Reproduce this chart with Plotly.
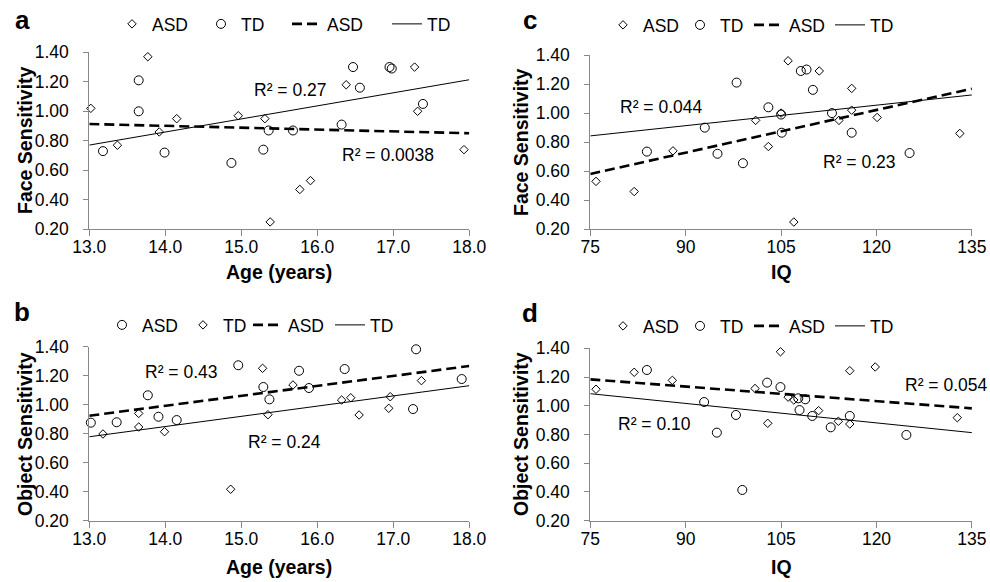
import plotly.graph_objects as go

# ---------------- data ----------------
# Panel a: Face sensitivity vs age
age_a_asd = [13.02, 13.37, 13.77, 13.92, 14.15, 14.96, 15.31, 15.38, 15.77, 15.91, 16.38, 17.28, 17.32, 17.93]
face_a_asd = [1.02, 0.77, 1.37, 0.86, 0.95, 0.97, 0.95, 0.25, 0.47, 0.53, 1.18, 1.30, 1.00, 0.74]
age_a_td = [13.18, 13.65, 13.65, 13.99, 14.87, 15.29, 15.36, 15.68, 16.32, 16.47, 16.56, 16.95, 16.98, 17.39]
face_a_td = [0.73, 1.21, 1.00, 0.72, 0.65, 0.74, 0.87, 0.87, 0.91, 1.30, 1.16, 1.30, 1.29, 1.05]
trend_age = [13.0, 18.0]
trend_a_asd = [0.914, 0.851]
trend_a_td = [0.771, 1.214]

# Panel b: Object sensitivity vs age
age_b_asd = [13.02, 13.36, 13.77, 13.91, 14.15, 14.96, 15.29, 15.37, 15.76, 15.89, 16.36, 17.26, 17.30, 17.90]
obj_b_asd = [0.876, 0.879, 1.065, 0.917, 0.894, 1.272, 1.122, 1.037, 1.234, 1.115, 1.246, 0.97, 1.382, 1.177]
age_b_td = [13.18, 13.65, 13.65, 13.99, 14.86, 15.28, 15.35, 15.68, 16.32, 16.44, 16.55, 16.94, 16.96, 17.37]
obj_b_td = [0.798, 0.94, 0.846, 0.814, 0.417, 1.251, 0.931, 1.136, 1.032, 1.048, 0.929, 0.975, 1.055, 1.166]
trend_b_asd = [0.924, 1.267]
trend_b_td = [0.779, 1.131]

# Panel c: Face sensitivity vs IQ
iq_c_asd = [75.9, 81.9, 88.0, 101.0, 103.0, 105.0, 106.1, 107.0, 111.0, 114.1, 116.1, 116.1, 120.1, 133.1]
face_c_asd = [0.53, 0.46, 0.74, 0.95, 0.77, 1.00, 1.36, 0.25, 1.29, 0.95, 1.17, 1.02, 0.97, 0.86]
iq_c_td = [83.9, 93.0, 95.0, 98.0, 99.0, 103.0, 105.0, 105.1, 108.1, 109.0, 110.0, 113.0, 116.1, 125.2]
face_c_td = [0.735, 0.90, 0.72, 1.21, 0.655, 1.04, 0.99, 0.865, 1.29, 1.30, 1.16, 1.00, 0.865, 0.725]
trend_iq = [75.0, 135.0]
trend_c_asd = [0.581, 1.168]
trend_c_td = [0.843, 1.125]

# Panel d: Object sensitivity vs IQ
iq_d_asd = [75.9, 81.9, 87.9, 100.9, 102.9, 104.9, 106.1, 107.0, 110.9, 114.0, 115.8, 115.8, 119.8, 132.7]
obj_d_asd = [1.115, 1.233, 1.177, 1.12, 0.878, 1.376, 1.06, 1.04, 0.966, 0.892, 0.873, 1.244, 1.27, 0.917]
iq_d_td = [83.9, 92.9, 94.9, 97.9, 98.9, 102.8, 104.9, 107.7, 108.8, 107.9, 109.9, 112.8, 115.8, 124.7]
obj_d_td = [1.249, 1.026, 0.813, 0.936, 0.414, 1.161, 1.13, 1.052, 1.045, 0.97, 0.929, 0.85, 0.929, 0.797]
trend_d_asd = [1.184, 0.982]
trend_d_td = [1.084, 0.813]

age_ticks = [13.0, 14.0, 15.0, 16.0, 17.0, 18.0]
iq_ticks = [75, 90, 105, 120, 135]
sens_ticks = [0.20, 0.40, 0.60, 0.80, 1.00, 1.20, 1.40]

# ---------------- figure ----------------
W, H = 990, 582
FONT = "Liberation Sans, Arial, Helvetica, sans-serif"
AX = "#888888"
fig = go.Figure()

DIA = dict(symbol="diamond-open", size=6.5, color="black", line=dict(width=1, color="black"))
CIR = dict(symbol="circle-open", size=9, color="black", line=dict(width=1, color="black"))
DASH = dict(color="black", width=2.6, dash="10px,5px")
SOLID = dict(color="black", width=1)

panels = [
    ("x", "y", age_a_asd, face_a_asd, DIA, age_a_td, face_a_td, CIR, trend_age, trend_a_asd, trend_a_td, 1),
    ("x2", "y2", iq_c_asd, face_c_asd, DIA, iq_c_td, face_c_td, CIR, trend_iq, trend_c_asd, trend_c_td, 5),
    ("x3", "y3", age_b_asd, obj_b_asd, CIR, age_b_td, obj_b_td, DIA, trend_age, trend_b_asd, trend_b_td, 9),
    ("x4", "y4", iq_d_asd, obj_d_asd, DIA, iq_d_td, obj_d_td, CIR, trend_iq, trend_d_asd, trend_d_td, 13),
]

def lname(i):
    return "legend" if i == 1 else "legend%d" % i

for xa, ya, ax_, ay_, am, tx_, ty_, tm, trx, tra, trt, li in panels:
    fig.add_trace(go.Scatter(x=ax_, y=ay_, mode="markers", marker=am, name="ASD",
                             xaxis=xa, yaxis=ya, cliponaxis=False, legend=lname(li)))
    fig.add_trace(go.Scatter(x=tx_, y=ty_, mode="markers", marker=tm, name="TD",
                             xaxis=xa, yaxis=ya, cliponaxis=False, legend=lname(li + 1)))
    fig.add_trace(go.Scatter(x=trx, y=tra, mode="lines", line=DASH, name="ASD",
                             xaxis=xa, yaxis=ya, legend=lname(li + 2)))
    fig.add_trace(go.Scatter(x=trx, y=trt, mode="lines", line=SOLID, name="TD",
                             xaxis=xa, yaxis=ya, legend=lname(li + 3)))

leg_pos = {
    1: (112, 24), 2: (201, 24), 3: (287, 24), 4: (387, 24),
    5: (603, 25), 6: (680, 25), 7: (749, 25), 8: (830, 25),
    9: (102, 325), 10: (183, 325), 11: (248, 325), 12: (330, 325),
    13: (603, 326), 14: (680, 326), 15: (749, 326), 16: (830, 326),
}
layout_legends = {}
for i, (px, py) in leg_pos.items():
    layout_legends[lname(i)] = dict(
        x=px / W, y=1 - py / H, xanchor="left", yanchor="middle",
        orientation="h", bgcolor="rgba(0,0,0,0)", borderwidth=0,
        font=dict(family=FONT, size=17.5, color="black"),
        itemwidth=30,
    )

def xax(domain_px, rng, ticks, fmt):
    return dict(domain=[domain_px[0] / W, domain_px[1] / W], range=rng, tickvals=ticks,
                tickformat=fmt, showline=True, linecolor=AX, linewidth=1, ticks="outside",
                ticklen=6, tickcolor=AX, showgrid=False, zeroline=False, automargin=False,
                ticklabelstandoff=-4,
                tickfont=dict(family=FONT, size=17.5, color="black"), fixedrange=True)

def yax(domain_px, anchor):
    return dict(domain=[1 - domain_px[1] / H, 1 - domain_px[0] / H], range=[0.2, 1.4],
                tickvals=sens_ticks, tickformat=".2f", showline=True, linecolor=AX, linewidth=1,
                ticks="outside", ticklen=5, tickcolor=AX, showgrid=False, zeroline=False,
                tickfont=dict(family=FONT, size=17.5, color="black"), anchor=anchor,
                ticklabelstandoff=11, automargin=False, fixedrange=True)

L1, R1 = 89.3, 469.3
L2, R2 = 590.3, 971.9

fig.update_layout(
    width=W, height=H, margin=dict(l=0, r=0, t=0, b=0, autoexpand=False),
    paper_bgcolor="white", plot_bgcolor="white", showlegend=True,
    font=dict(family=FONT, color="black"),
    xaxis=dict(**xax((L1, R1), [13, 18], age_ticks, ".1f"), anchor="y"),
    yaxis=yax((52.3, 229.3), "x"),
    xaxis2=dict(**xax((L2, R2), [75, 135], iq_ticks, "d"), anchor="y2"),
    yaxis2=yax((55.0, 229.3), "x2"),
    xaxis3=dict(**xax((L1, R1), [13, 18], age_ticks, ".1f"), anchor="y3"),
    yaxis3=yax((346.7, 520.7), "x3"),
    xaxis4=dict(**xax((L2, R2), [75, 135], iq_ticks, "d"), anchor="y4"),
    yaxis4=yax((348.3, 520.7), "x4"),
    **layout_legends,
)

ann = []
def r2(text, x, y, xr, yr):
    ann.append(dict(text=text, x=x, y=y, xref=xr, yref=yr, xanchor="left", yanchor="middle",
                    showarrow=False, font=dict(family=FONT, size=17.5, color="black")))

r2("R² = 0.27", 15.14, 1.145, "x", "y")
r2("R² = 0.0038", 16.30, 0.704, "x", "y")
r2("R² = 0.044", 79.3, 1.044, "x2", "y2")
r2("R² = 0.23", 111.2, 0.662, "x2", "y2")
r2("R² = 0.43", 13.71, 1.228, "x3", "y3")
r2("R² = 0.24", 15.06, 0.745, "x3", "y3")
r2("R² = 0.10", 79.0, 0.871, "x4", "y4")
r2("R² = 0.054", 124.1, 1.145, "x4", "y4")

def ptxt(text, px, py, size, angle=0):
    ann.append(dict(text="<b>%s</b>" % text, x=px / W, y=1 - py / H, xref="paper", yref="paper",
                    xanchor="center", yanchor="middle", showarrow=False, textangle=angle,
                    font=dict(family=FONT, size=size, color="black")))

ptxt("a", 22, 20, 26)
ptxt("c", 530, 20, 26)
ptxt("b", 22, 312, 26)
ptxt("d", 530, 313, 26)
ptxt("Face Sensitivity", 25, 140, 19.5, -90)
ptxt("Face Sensitivity", 521, 142, 19.5, -90)
ptxt("Object Sensitivity", 25, 434, 19.5, -90)
ptxt("Object Sensitivity", 521, 434, 19.5, -90)
ptxt("Age (years)", 279, 272, 19.5)
ptxt("IQ", 781, 272, 19.5)
ptxt("Age (years)", 279, 567, 19.5)
ptxt("IQ", 781, 567, 19.5)

fig.update_layout(annotations=ann)
fig.write_html("out.html", config={"displayModeBar": False},
               post_script="document.body.style.margin='0px';")
